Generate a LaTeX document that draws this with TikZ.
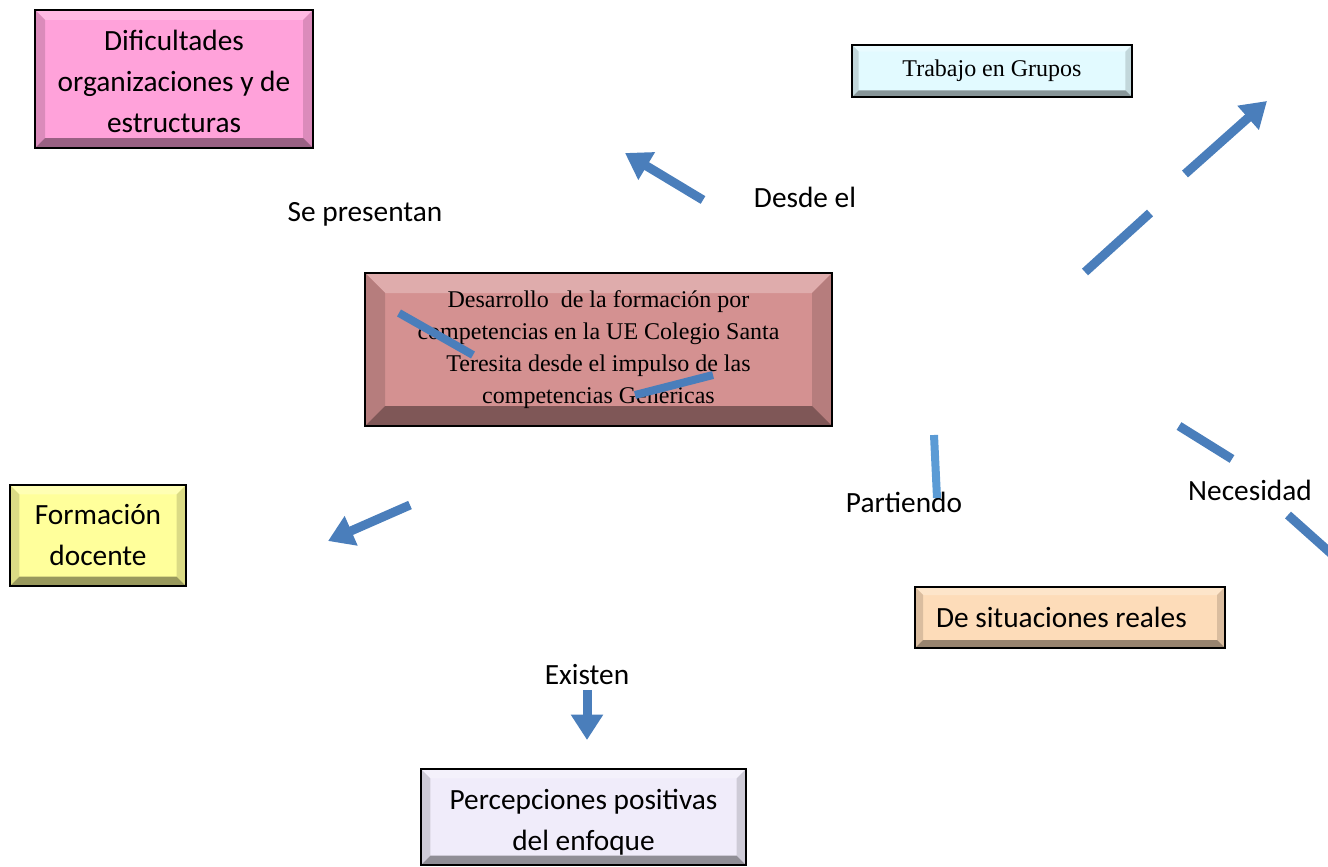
\documentclass[tikz,border=0pt]{standalone}
\usepackage{fontspec}
\setmainfont{Carlito}
\newfontfamily\tnr{Liberation Serif}
\usetikzlibrary{arrows.meta}
\definecolor{arrowblue}{RGB}{74,126,187}
\definecolor{lightblue}{RGB}{91,155,213}
\definecolor{cpink}{RGB}{255,162,218}
\definecolor{ccyan}{RGB}{226,250,255}
\definecolor{crose}{RGB}{212,145,145}
\definecolor{cyellow}{RGB}{255,255,155}
\definecolor{cpeach}{RGB}{253,220,185}
\definecolor{clav}{RGB}{240,236,250}
\tikzset{
  bevbox/.style 2 args={draw=black, line width=1.5pt, fill=#1, inner sep=0pt, align=center,
    path picture={
      \fill[#1!75!white] (path picture bounding box.north west) -- (path picture bounding box.north east)
        -- ([xshift=-#2,yshift=-#2]path picture bounding box.north east) -- ([xshift=#2,yshift=-#2]path picture bounding box.north west) -- cycle;
      \fill[#1!86!black] (path picture bounding box.north west) -- ([xshift=#2,yshift=-#2]path picture bounding box.north west)
        -- ([xshift=#2,yshift=#2]path picture bounding box.south west) -- (path picture bounding box.south west) -- cycle;
      \fill[#1!86!black] (path picture bounding box.north east) -- ([xshift=-#2,yshift=-#2]path picture bounding box.north east)
        -- ([xshift=-#2,yshift=#2]path picture bounding box.south east) -- (path picture bounding box.south east) -- cycle;
      \fill[#1!60!black] (path picture bounding box.south west) -- ([xshift=#2,yshift=#2]path picture bounding box.south west)
        -- ([xshift=-#2,yshift=#2]path picture bounding box.south east) -- (path picture bounding box.south east) -- cycle;
    }},
  calib/.style={font=\fontsize{22}{30.75}\selectfont},
  times/.style={font=\fontsize{18}{24}\selectfont\tnr},
  lbl/.style={calib, inner sep=0pt},
  shaft/.style={draw=arrowblue, line width=6.75pt},
  arr/.style={shaft, -{Triangle[length=19pt,width=23pt]}},
}
\begin{document}
\begin{tikzpicture}[x=0.75pt,y=-0.75pt]
\useasboundingbox (0,0) rectangle (1328,867);

% boxes
\node[bevbox={cpink}{7.5pt}, calib, minimum width=208.5pt, minimum height=103.5pt] (dif) at (174,79)
  {\rule{0pt}{19pt}Dificultades\\organizaciones y de\\estructuras};
\node[bevbox={ccyan}{5pt}, times, minimum width=210pt, minimum height=39pt] (trab) at (992,71)
  {Trabajo en Grupos};
\node[bevbox={crose}{15pt}, times, minimum width=350.25pt, minimum height=114.75pt] (des) at (598.5,349.5)
  {Desarrollo\ \ de la formación por\\competencias en la UE Colegio Santa\\Teresita desde el impulso de las\\competencias Genericas};
\node[bevbox={cyellow}{7pt}, calib, minimum width=132pt, minimum height=75.75pt] (form) at (98,535.5)
  {Formación\\docente};
\node[bevbox={cpeach}{6pt}, calib, minimum width=232.5pt, minimum height=45.75pt, align=flush left,
  text width=201pt, inner xsep=15.75pt] (sit) at (1070,617.5)
  {De situaciones reales};
\node[bevbox={clav}{7pt}, calib, minimum width=243.75pt, minimum height=72pt] (perc) at (583.5,817)
  {\rule{0pt}{23pt}Percepciones positivas\\del enfoque};

% labels
\node[lbl] (sep) at (365,214) {Se presentan};
\node[lbl] (desde) at (805,197) {Desde el};
\node[lbl] (part) at (904,502) {Partiendo};
\node[lbl] (nec) at (1250,490) {Necesidad};
\node[lbl] (exis) at (587,675) {Existen};

% connector coordinates
\coordinate (a1) at (703,200); \coordinate (a2) at (625,153);
\coordinate (b1) at (1085,272); \coordinate (b2) at (1150,213);
\coordinate (b3) at (1185,174); \coordinate (b4) at (1267,101);
\coordinate (c1) at (410,505); \coordinate (c2) at (328,541);
\coordinate (d1) at (587,690); \coordinate (d2) at (587,740);
\coordinate (e1) at (934,435); \coordinate (e2) at (937,498);
\coordinate (f1) at (1179,426); \coordinate (f2) at (1232,459);
\coordinate (f3) at (1288,515); \coordinate (f4) at (1335,557);
\coordinate (g1) at (399,313); \coordinate (g2) at (473,355);
\coordinate (h1) at (635,395); \coordinate (h2) at (713,375);

% connectors
\draw[arr] (a1) -- (a2);
\draw[shaft] (b1) -- (b2);
\draw[arr] (b3) -- (b4);
\draw[arr] (c1) -- (c2);
\draw[arr] (d1) -- (d2);
\draw[draw=lightblue, line width=6pt] (e1) -- (e2);
\draw[shaft] (f1) -- (f2);
\draw[shaft] (f3) -- (f4);
\draw[shaft, line width=6pt] (g1) -- (g2);
\draw[shaft, line width=6pt] (h1) -- (h2);
\end{tikzpicture}
\end{document}
